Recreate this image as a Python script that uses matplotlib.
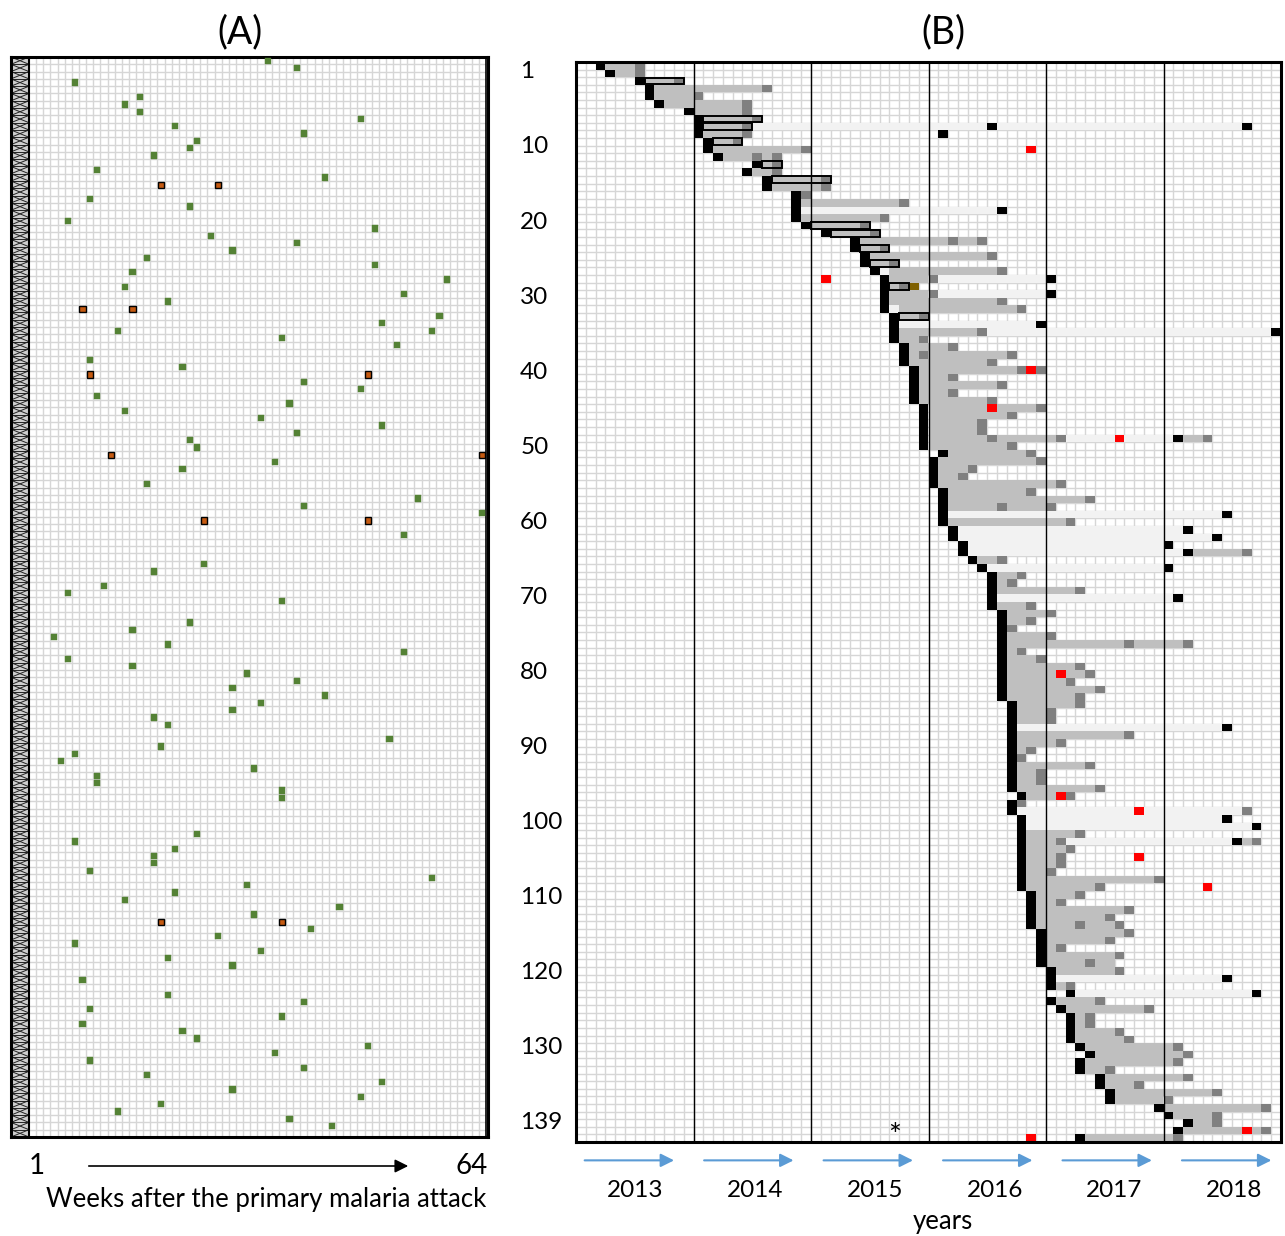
import matplotlib
matplotlib.use("Agg")
import matplotlib.pyplot as plt
from matplotlib.patches import Rectangle
from matplotlib.collections import LineCollection

plt.rcParams['font.family'] = ['Lato', 'DejaVu Sans']

# ---------------- Panel A: relapses by week after the primary attack ----------------
N_WEEKS = 64
N_ROWS_A = 148

relapse_week = [7, 34, 38, 16, 14, 16, 21, 47, 39, 24, 23, 18, 10, 42, 9, 23, 6, 49, 26, 38,
                29, 17, 49, 15, 59, 14, 53, 20, 58, 50, 13, 57, 36, 52, 9, 22, 39, 47, 10, 37,
                14, 33, 50, 38, 23, 24, 35, 22, 17, 55, 39, 64, 53, 25, 18, 11, 6, 36, 23, 15,
                4, 20, 53, 6, 15, 31, 38, 29, 42, 33, 29, 18, 20, 51, 19, 7, 5, 32, 10, 10,
                36, 36, 24, 7, 21, 18, 18, 9, 57, 31, 21, 14, 44, 32, 40, 27, 7, 33, 20, 29,
                8, 20, 39, 9, 36, 8, 22, 24, 48, 35, 9, 39, 17, 50, 29, 47, 19, 13, 37, 43]
relapse_row = [4, 1, 2, 6, 7, 8, 10, 9, 11, 12, 13, 14, 16, 17, 20, 21, 23, 24, 25, 26,
               27, 28, 29, 30, 31, 32, 33, 34, 36, 37, 38, 38, 39, 40, 42, 43, 45, 46, 47, 48,
               49, 50, 51, 52, 53, 54, 56, 57, 59, 61, 62, 63, 66, 70, 71, 73, 74, 75, 78, 79,
               80, 81, 82, 83, 84, 85, 86, 87, 88, 89, 90, 91, 92, 94, 95, 96, 97, 98, 99, 100,
               101, 102, 107, 108, 109, 110, 111, 112, 113, 114, 115, 116, 117, 118, 120, 121, 122, 123, 124, 125,
               127, 129, 130, 131, 132, 133, 134, 135, 136, 137, 138, 139, 140, 141, 142, 143, 144, 145, 146, 147]

paired_week = [19, 27, 8, 15, 9, 48, 12, 64, 25, 48, 19, 36]
paired_row = [18, 18, 35, 35, 44, 44, 55, 55, 64, 64, 119, 119]

# ---------------- Panel B: follow-up of each patient by month (2013-2018) ----------------
N_ROWS_B = 142
N_MONTHS = 72
YEARS = ['2013', '2014', '2015', '2016', '2017', '2018']
ROW_LABELS = [1, 10, 20, 30, 40, 50, 60, 70, 80, 90, 100, 110, 120, 130, 139]

primary_month = [2, 3, 6, 7, 7, 8, 11, 12, 12, 12, 13, 13, 14, 18, 17, 19, 19, 22, 22, 22,
                 22, 23, 25, 28, 28, 29, 29, 30, 31, 31, 31, 31, 31, 32, 32, 32, 32, 33, 33, 33,
                 34, 34, 34, 34, 34, 35, 35, 35, 35, 35, 35, 37, 36, 36, 36, 36, 37, 37, 37, 37,
                 37, 38, 38, 39, 39, 40, 41, 42, 42, 42, 42, 42, 43, 43, 43, 43, 43, 43, 43, 43,
                 43, 43, 43, 43, 44, 44, 44, 44, 44, 44, 44, 44, 44, 44, 44, 44, 45, 44, 44, 45,
                 45, 45, 45, 45, 45, 45, 45, 45, 45, 46, 46, 46, 46, 46, 47, 47, 47, 47, 47, 48,
                 48, 48, 50, 48, 49, 50, 50, 50, 50, 51, 52, 51, 51, 53, 53, 54, 54, 59, 60, 62,
                 61, 51]

follow_end = [5, 5, 9, 18, 11, 16, 16, 17, 16, 16, 15, 22, 19, 19, 19, 24, 24, 22, 32, 22,
              30, 28, 29, 40, 30, 41, 31, 42, 35, 32, 35, 42, 44, 34, 32, 40, 34, 37, 43, 41,
              44, 37, 42, 37, 41, 46, 43, 40, 40, 48, 43, 45, 46, 39, 38, 48, 45, 51, 47, 37,
              49, 38, 38, 39, 39, 42, 41, 44, 43, 50, 42, 45, 47, 45, 43, 47, 61, 44, 46, 50,
              51, 49, 52, 50, 50, 47, 47, 44, 55, 48, 45, 44, 51, 46, 46, 52, 48, 44, 44, 45,
              45, 50, 48, 49, 48, 48, 47, 58, 52, 50, 48, 55, 53, 54, 55, 53, 48, 54, 54, 54,
              48, 49, 50, 52, 57, 51, 51, 54, 55, 60, 61, 60, 53, 61, 56, 64, 59, 69, 64, 64,
              69, 60]

follow_start = {27: 32, 32: 33}

end_month = [[6], [6], [10], [19], [12], [17], [17], [18], [17], [17], [16], [23], [18, 20], [20], [20],
             [25], [25], [23], [33], [], [31], [29], [30], [38, 41], [31], [42], [32], [43], [36], [33],
             [36], [43], [45], [35], [], [41], [35], [38], [35, 44], [42], [45, 47], [38], [43], [38], [42],
             [47], [44], [41], [41], [42, 49], [44], [46], [47], [40], [39], [49], [46], [52], [43, 48], [],
             [50], [], [], [], [], [43], [], [45], [44], [51], [], [46], [48], [46], [44],
             [48], [56, 62], [45], [47], [51], [52], [50], [53], [51], [51], [48], [48], [], [56], [49],
             [46], [45], [52], [47], [47], [53], [50], [45], [68], [], [], [51], [49], [50], [49],
             [49], [48], [59], [53], [51], [49], [56], [54], [51, 55], [56], [54], [49], [55], [52], [55],
             [], [50], [], [53], [58], [52], [52], [55], [56], [61], [62], [61], [54], [62], [57],
             [65], [60], [70], [65], [65], [70], [61]]

no_event = {8: (18, 67), 19: (23, 42), 27: (31, 31), 28: (37, 47), 30: (37, 47), 32: (32, 32),
            34: (33, 46), 35: (42, 70), 49: (50, 60), 59: (38, 65), 61: (39, 61), 62: (39, 64),
            63: (40, 59), 64: (40, 61), 66: (42, 59), 70: (43, 60), 87: (45, 65), 98: (45, 67),
            99: (46, 65), 100: (46, 68), 102: (50, 66), 120: (49, 65), 122: (51, 68)}

new_attack = {8: [42, 68], 9: [37], 19: [43], 28: [48], 30: [48], 34: [47], 35: [71], 49: [61],
              59: [66], 61: [62], 62: [65], 63: [60], 64: [62], 66: [60], 70: [61], 87: [66],
              99: [66], 100: [69], 102: [67], 120: [66], 122: [69]}

second_follow = {49: (63, 64), 64: (67, 68), 102: (68, 69)}

red_month = {11: [46], 28: [25], 40: [46], 45: [42], 49: [55], 80: [49], 96: [49], 98: [57],
             104: [57], 108: [64], 140: [68], 141: [46]}

boxed_rows = [2, 7, 8, 10, 13, 15, 21, 22, 24, 26, 29, 33]
olive_cells = [(29, 34)]

W, H = 1285, 1236
fig = plt.figure(figsize=(W / 100, H / 100), dpi=100)

GRID = '#d6d6d6'

# ---------------- draw panel A ----------------
HATCH_W = 2.52
axA = fig.add_axes([11 / W, 1 - 1137 / H, 477 / W, 1080 / H])
axA.set_xlim(-HATCH_W, N_WEEKS + 0.3)
axA.set_ylim(N_ROWS_A, 0)
axA.set_xticks([])
axA.set_yticks([])
for s in axA.spines.values():
    s.set_linewidth(2.2)

axA.vlines(range(1, N_WEEKS), 0, N_ROWS_A, color=GRID, lw=1.0, zorder=0)
axA.hlines(range(1, N_ROWS_A), 0, N_WEEKS, color=GRID, lw=1.0, zorder=0)
axA.axvline(N_WEEKS, color='black', lw=1.2, zorder=3)

axA.add_patch(Rectangle((-HATCH_W, 0), HATCH_W, N_ROWS_A, facecolor='#cfcfcf',
                        edgecolor='none', zorder=1))
segs = []
for i in range(N_ROWS_A):
    segs.append([(-HATCH_W, i), (0, i + 1)])
    segs.append([(-HATCH_W, i + 1), (0, i)])
    segs.append([(-HATCH_W, i), (0, i)])
axA.add_collection(LineCollection(segs, colors='#222222', linewidths=0.7, zorder=2))
axA.axvline(0, color='black', lw=1.5, zorder=3)

SQ = 0.86
axA.bar([w - 0.5 for w in relapse_week], [SQ] * len(relapse_week),
        bottom=[r - 0.5 - SQ / 2 for r in relapse_row], width=SQ,
        color='#548235', edgecolor='#548235', lw=0.3, zorder=4)
axA.bar([w - 0.5 for w in paired_week], [SQ] * len(paired_week),
        bottom=[r - 0.5 - SQ / 2 for r in paired_row], width=SQ,
        color='#c55a11', edgecolor='black', lw=1.0, zorder=4)

fig.text(240 / W, 1 - 32 / H, '(A)', fontsize=27, ha='center', va='center')
fig.text(37 / W, 1 - 1166 / H, '1', fontsize=20, ha='center', va='center')
fig.text(472 / W, 1 - 1166 / H, '64', fontsize=20, ha='center', va='center')
axA.annotate('', xy=(411 / W, 1 - 1166 / H), xytext=(86 / W, 1 - 1166 / H),
             xycoords='figure fraction', textcoords='figure fraction',
             arrowprops=dict(arrowstyle='-|>', color='black', lw=1.2, mutation_scale=20))
fig.text(266 / W, 1 - 1199 / H, 'Weeks after the primary malaria attack', fontsize=18.5,
         ha='center', va='center')

# ---------------- draw panel B ----------------
axB = fig.add_axes([576 / W, 1 - 1142 / H, 705 / W, 1080 / H])
axB.set_xlim(0, N_MONTHS)
axB.set_ylim(N_ROWS_B, 0)
axB.set_xticks([])
axB.set_yticks([])
for s in axB.spines.values():
    s.set_linewidth(2.2)

axB.vlines(range(1, N_MONTHS), 0, N_ROWS_B, color=GRID, lw=1.0, zorder=0)
axB.hlines(range(1, N_ROWS_B), 0, N_MONTHS, color=GRID, lw=1.0, zorder=0)


def cells(ax, row, start, end, color, z=2):
    if end < start:
        return
    ax.barh(row + 0.5, end - start + 1, left=start, height=1.0, color=color,
            lw=0, zorder=z)


for r in range(N_ROWS_B):
    b = primary_month[r]
    if r in no_event:
        s, e = no_event[r]
        cells(axB, r, s, e, '#f2f2f2')
    g0 = follow_start.get(r, b + 1)
    cells(axB, r, g0, follow_end[r], '#bfbfbf')
    for d in end_month[r]:
        cells(axB, r, d, d, '#808080')
    cells(axB, r, b, b, 'black')
    for k in new_attack.get(r, []):
        cells(axB, r, k, k, 'black')
    if r in second_follow:
        k = new_attack[r][-1]
        ge, de = second_follow[r]
        cells(axB, r, k + 1, ge, '#bfbfbf')
        cells(axB, r, de, de, '#808080')
    for m in red_month.get(r, []):
        cells(axB, r, m, m, '#ff0000')

for r, m in olive_cells:
    cells(axB, r, m, m, '#7f6000')

for r in boxed_rows:
    b = primary_month[r]
    last = max([follow_end[r]] + end_month[r])
    axB.add_patch(Rectangle((b + 1, r + 0.05), last - b, 0.9, fill=False,
                            edgecolor='black', lw=1.4, zorder=4))

for y in range(1, 6):
    axB.axvline(12 * y, color='black', lw=1.0, zorder=5)

axB.text(32.5, 141.2, '*', fontsize=22, ha='center', va='center', zorder=6)

fig.text(943 / W, 1 - 32 / H, '(B)', fontsize=27, ha='center', va='center')
for i, lab in enumerate(ROW_LABELS):
    ypos = 1.3 + 9.87 * i
    axB.text(-5.7, ypos, str(lab), fontsize=17.5, ha='left', va='center')

for i, yr in enumerate(YEARS):
    x0 = 12 * i + 0.6 + 0.2 * i
    x1 = 12 * i + 10.3 + 0.2 * i
    axB.annotate('', xy=(min(x1, 72.0), -0.017), xytext=(x0, -0.017),
                 xycoords=('data', 'axes fraction'), textcoords=('data', 'axes fraction'),
                 annotation_clip=False,
                 arrowprops=dict(arrowstyle='-|>', color='#5b9bd5', lw=1.5, mutation_scale=20))
    axB.text(12 * i + 6 + 0.25 * i, -0.045, yr, fontsize=17.5, ha='center', va='center',
             transform=axB.get_xaxis_transform())

fig.text(943 / W, 1 - 1222 / H, 'years', fontsize=18.5, ha='center', va='center')

fig.savefig('out.png', dpi=100)
